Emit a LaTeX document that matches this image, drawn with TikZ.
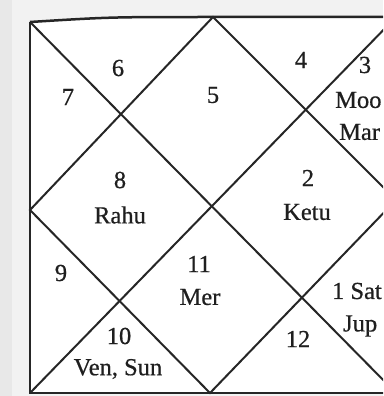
\documentclass[tikz,border=0pt]{standalone}
\usepackage{fontspec}
\setmainfont{Liberation Serif}
\newfontfamily\lblfont[FakeBold=0.6]{Liberation Serif}
\begin{document}
\begin{tikzpicture}[x=1pt,y=-1pt,
  chartline/.style={draw=black!85,line width=2pt,line join=miter},
  frameline/.style={draw=black!85,line width=2.5pt},
  lbl/.style={font=\lblfont\fontsize{24.5}{27}\selectfont,text=black!88,inner sep=0pt}]
\useasboundingbox (0,0) rectangle (383,396);
\clip (0,0) rectangle (383,396);
\fill[black!5] (0,0) rectangle (383,396);
\fill[black!9] (0,0) rectangle (12,396);
% corners and midpoints
\coordinate (tl) at (30,22);
\coordinate (tm) at (213,17);
\coordinate (tr) at (396,17);
\coordinate (ml) at (30,210);
\coordinate (mr) at (396,200);
\coordinate (bl) at (30,393);
\coordinate (bm) at (210,393);
\coordinate (br) at (396,393);
\fill[white] (tl) .. controls (110,17) .. (tm) -- (tr) -- (br) -- (bl) -- cycle;
% frame
\draw[frameline] (tl) .. controls (110,17) .. (tm) -- (tr);
\draw[frameline] (tl) -- (bl) -- (br);
% diagonals
\draw[chartline] (tl) -- (br);
\draw[chartline] (tr) -- (bl);
% inner diamond
\draw[chartline] (tm) -- (ml) -- (bm) -- (mr) -- cycle;
% labels
\node[lbl] (h6) at (118,68) {6};
\node[lbl] (h7) at (68,97) {7};
\node[lbl] (h5) at (213,95) {5};
\node[lbl] (h4) at (301,60) {4};
\node[lbl] (h3) at (365,65) {3};
\node[lbl,anchor=west] (moo) at (335,100) {Moo};
\node[lbl,anchor=west] (mar) at (339,132) {Mar};
\node[lbl] (h8) at (120,180) {8};
\node[lbl] (rahu) at (120,215) {Rahu};
\node[lbl] (h2) at (308,178) {2};
\node[lbl] (ketu) at (307,212) {Ketu};
\node[lbl] (h9) at (61,273) {9};
\node[lbl] (h11) at (199,264) {11};
\node[lbl] (mer) at (200,297) {Mer};
\node[lbl,anchor=east] (sat) at (382,291) {1 Sat};
\node[lbl,anchor=west] (jup) at (343,326) {Jup};
\node[lbl] (h10) at (119,336) {10};
\node[lbl] (vensun) at (118,369) {Ven, Sun};
\node[lbl] (h12) at (298,339) {12};
\end{tikzpicture}
\end{document}
